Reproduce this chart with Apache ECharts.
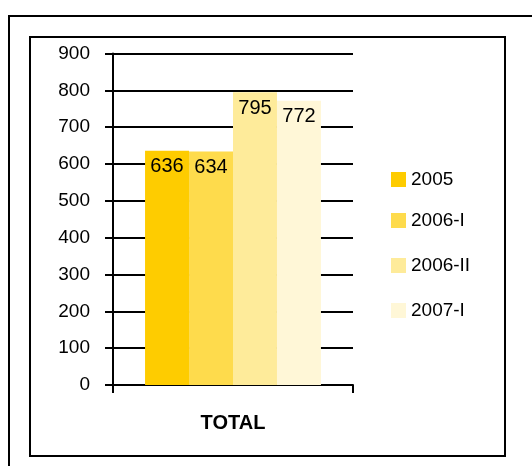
<!DOCTYPE html>
<html>
<head>
<meta charset="utf-8">
<script src="https://cdn.jsdelivr.net/npm/echarts@6/dist/echarts.min.js"></script>
<style>
html,body{margin:0;padding:0;background:#fff;}
#chart{width:532px;height:466px;}
</style>
</head>
<body>
<div id="chart"></div>
<script>
const categories = ['TOTAL'];
const seriesNames = ['2005', '2006-I', '2006-II', '2007-I'];
const seriesValues = [[636], [634], [795], [772]];
const seriesColors = ['#FECC00', '#FEDB4C', '#FEEB9A', '#FFF7D7'];
const yTicks = [0, 100, 200, 300, 400, 500, 600, 700, 800, 900];

const legendTops = [170, 211, 256, 301];

const chart = echarts.init(document.getElementById('chart'), null, {renderer: 'canvas'});

const series = seriesNames.map((name, i) => ({
  name: name,
  type: 'bar',
  data: seriesValues[i],
  barGap: '0%',
  barCategoryGap: '26.7%',
  itemStyle: {color: seriesColors[i]},
  label: {
    show: true,
    position: 'insideTop',
    distance: 6,
    color: '#000',
    fontFamily: 'Liberation Sans',
    fontSize: 20
  },
  emphasis: {disabled: true}
}));

const legends = seriesNames.map((name, i) => ({
  data: [name],
  left: 391,
  top: legendTops[i],
  orient: 'vertical',
  icon: 'rect',
  itemWidth: 15,
  itemHeight: 15,
  itemGap: 0,
  padding: 0,
  textStyle: {color: '#000', fontFamily: 'Liberation Sans', fontSize: 19, padding: [0, 0, 0, 0]},
  selectedMode: false
}));

chart.setOption({
  animation: false,
  backgroundColor: '#fff',
  grid: {left: 113, right: 179, top: 53.5, bottom: 81, containLabel: false},
  legend: legends,
  xAxis: {
    type: 'category',
    data: categories,
    axisLine: {show: true, lineStyle: {color: '#000', width: 2}},
    axisTick: {show: true, length: 8, lineStyle: {color: '#000', width: 2}},
    axisLabel: {margin: 28, color: '#000', fontFamily: 'Liberation Sans', fontWeight: 'bold', fontSize: 20}
  },
  yAxis: {
    type: 'value',
    min: yTicks[0],
    max: yTicks[yTicks.length - 1],
    interval: 100,
    axisLine: {show: true, lineStyle: {color: '#000', width: 2}},
    axisTick: {show: true, length: 8, lineStyle: {color: '#000', width: 2}},
    splitLine: {show: true, lineStyle: {color: '#000', width: 2}},
    axisLabel: {margin: 23, color: '#000', fontFamily: 'Liberation Sans', fontSize: 19}
  },
  graphic: [
    {type: 'rect', shape: {x: 9, y: 16, width: 700, height: 700}, style: {fill: null, stroke: '#000', lineWidth: 2}, silent: true, z: 100},
    {type: 'rect', shape: {x: 30, y: 37, width: 475, height: 419}, style: {fill: null, stroke: '#000', lineWidth: 2}, silent: true, z: 100}
  ],
  series: series
});
</script>
</body>
</html>
